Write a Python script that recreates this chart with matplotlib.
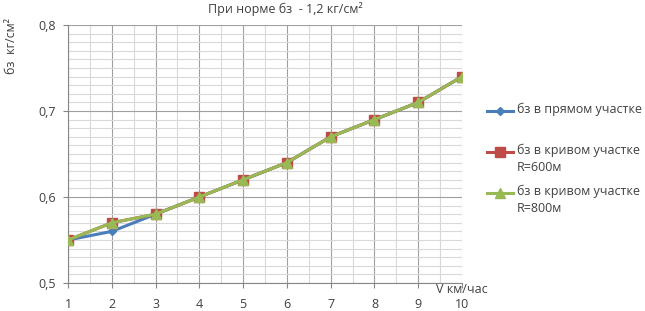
import matplotlib.pyplot as plt
from matplotlib.lines import Line2D
from matplotlib.ticker import MultipleLocator, FuncFormatter

plt.rcParams["font.family"] = ["Open Sans", "DejaVu Sans"]

# скорость, км/час
v = [1, 2, 3, 4, 5, 6, 7, 8, 9, 10]
# бз, кг/см²
straight = [0.55, 0.56, 0.58, 0.60, 0.62, 0.64, 0.67, 0.69, 0.71, 0.74]
curve_600 = [0.55, 0.57, 0.58, 0.60, 0.62, 0.64, 0.67, 0.69, 0.71, 0.74]
curve_800 = [0.55, 0.57, 0.58, 0.60, 0.62, 0.64, 0.67, 0.69, 0.71, 0.74]

labels = ["бз в прямом участке",
          "бз в кривом участке\nR=600м",
          "бз в кривом участке\nR=800м"]

W, H = 645, 311
fig = plt.figure(figsize=(W / 100, H / 100), dpi=100)
ax = fig.add_axes([68 / W, 1 - 283 / H, (462 - 68) / W, (283 - 25) / H])

lines = []
lines += ax.plot(v, straight, color="#4A7EBB", lw=2.2, marker="D", ms=4.5, zorder=3)
lines += ax.plot(v, curve_600, color="#BE4B48", lw=2.2, marker="s", ms=6.5, zorder=4)
lines += ax.plot(v, curve_800, color="#98B954", lw=2.2, marker="^", ms=7, zorder=5)

ax.set_xlim(1, 10)
ax.set_ylim(0.5, 0.8)
ax.xaxis.set_major_locator(MultipleLocator(1))
ax.xaxis.set_minor_locator(MultipleLocator(0.5))
ax.yaxis.set_major_locator(MultipleLocator(0.1))
ax.yaxis.set_minor_locator(MultipleLocator(0.01))
ax.yaxis.set_major_formatter(FuncFormatter(lambda y, p: f"{y:.1f}".replace(".", ",")))

ax.grid(which="major", color="#A0A0A0", lw=0.8)
ax.grid(which="minor", color="#D9D9D9", lw=0.8)
ax.set_axisbelow(True)
for s in ["top", "right"]:
    ax.spines[s].set_visible(False)
for s in ["left", "bottom"]:
    ax.spines[s].set_color("#868686")
ax.tick_params(which="major", length=3.6, color="#868686", labelsize=9, colors="#404040")
ax.tick_params(axis="x", pad=7)
ax.tick_params(axis="y", pad=5)
ax.tick_params(which="minor", length=0)

ax.text(10, 0.493, "V км/час", fontsize=9, ha="center", va="center", color="#404040")
fig.text(285 / W, 1 - 9 / H, "При норме бз  - 1,2 кг/см²", fontsize=9, ha="center", va="center", color="#404040")
fig.text(12 / W, 1 - 18 / H, "бз  кг/см²", fontsize=9, rotation=90, ha="center", va="top", color="#404040")

# легенда справа, как в Excel: значок на уровне первой строки
for ln, lab, yy in zip(lines, labels, [111, 152, 193]):
    y = 1 - yy / H
    fig.add_artist(Line2D([487 / W, 513 / W], [y, y], transform=fig.transFigure,
                          color=ln.get_color(), lw=2.2))
    fig.add_artist(Line2D([500 / W], [y], transform=fig.transFigure, color=ln.get_color(),
                          marker=ln.get_marker(), ms=ln.get_markersize(), lw=0))
    fig.text(517 / W, 1 - (yy - 8) / H, lab, fontsize=9, ha="left", va="top",
             color="#404040", linespacing=1.35)

fig.savefig("out.png", dpi=100)
